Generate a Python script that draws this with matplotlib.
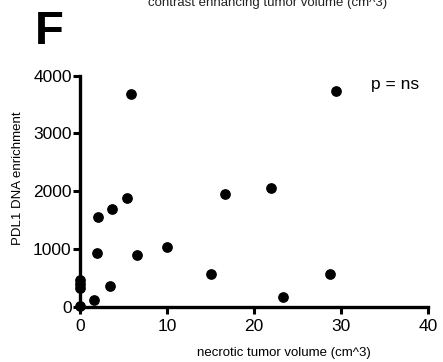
import matplotlib
matplotlib.use("Agg")
import matplotlib.pyplot as plt

plt.rcParams['font.family'] = ['Liberation Sans', 'DejaVu Sans']

# necrotic tumor volume (cm^3) vs PDL1 DNA enrichment
necrotic_vol = [0, 0, 0, 0, 1.6, 2.0, 2.1, 3.5, 3.7, 5.4, 5.9, 6.5, 10.0,
                15.1, 16.7, 22.0, 23.3, 28.7, 29.5]
pdl1_enrich = [20, 330, 400, 470, 120, 930, 1550, 350, 1690, 1890, 3680, 900, 1030,
               570, 1950, 2050, 170, 570, 3740]

x_ticks = [0, 10, 20, 30, 40]
y_ticks = [0, 1000, 2000, 3000, 4000]

fig = plt.figure(figsize=(4.43, 3.62), dpi=100)
ax = fig.add_axes([0.1806, 0.1528, 0.785, 0.638])

ax.scatter(necrotic_vol, pdl1_enrich, s=45, color='black', zorder=3, clip_on=False)

ax.set_xlim(0, 40)
ax.set_ylim(0, 4000)
ax.set_xticks(x_ticks)
ax.set_yticks(y_ticks)

for side in ['top', 'right']:
    ax.spines[side].set_visible(False)
for side in ['left', 'bottom']:
    ax.spines[side].set_linewidth(2.4)
ax.tick_params(width=2.2, length=5, labelsize=12.5, direction='out')
ax.tick_params(axis='y', pad=1)
ax.tick_params(axis='x', pad=4)

ax.text(0.975, 0.96, 'p = ns', transform=ax.transAxes, fontsize=12.5,
        ha='right', va='center')

fig.text(284 / 443, 1 - 353 / 362, 'necrotic tumor volume (cm^3)',
         fontsize=9.5, ha='center', va='center')
fig.text(18 / 443, 1 - 178 / 362, 'PDL1 DNA enrichment', fontsize=9.5,
         rotation=90, ha='center', va='center')
fig.text(268 / 443, 1 - 6 / 362, 'contrast enhancing tumor volume (cm^3)',
         fontsize=9.5, ha='center', va='baseline', color='#222222')
fig.text(35 / 443, 1 - 44 / 362, 'F', fontsize=34, fontweight='bold',
         ha='left', va='baseline')

fig.savefig('out.png', dpi=100)
